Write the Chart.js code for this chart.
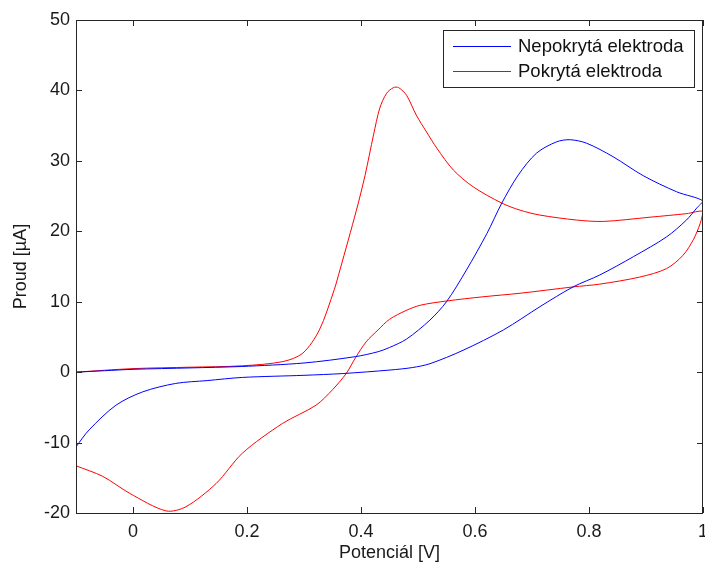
<!DOCTYPE html>
<html>
<head>
<meta charset="utf-8">
<script src="https://cdn.jsdelivr.net/npm/chart.js@4/dist/chart.umd.min.js"></script>
<style>
  body { margin: 0; background: #fff; }
  #cv { display: block; }
</style>
</head>
<body>
<canvas id="cv" width="705" height="565"></canvas>
<script>
// Cyclic voltammograms: uncoated vs coated electrode, scan -0.1 V -> 1 V -> -0.1 V
var seriesNames = ['Nepokrytá elektroda', 'Pokrytá elektroda'];
var seriesColors = ['#0000ff', '#ff0000'];

// uncoated electrode, forward then reverse scan
var bareX = [-0.1, -0.05, 0, 0.1, 0.19, 0.3, 0.39, 0.43, 0.45, 0.48, 0.521, 0.55, 0.585, 0.621, 0.647, 0.676, 0.708, 0.743, 0.767, 0.796, 0.842, 0.895, 0.954, 1.0,
             0.989, 0.971, 0.936, 0.878, 0.819, 0.772, 0.714, 0.65, 0.579, 0.521, 0.49, 0.451, 0.368, 0.3, 0.192, 0.13, 0.075, 0.017, -0.03, -0.077, -0.1];
var bareY = [0, 0.2, 0.4, 0.6, 0.8, 1.3, 2.2, 2.9, 3.5, 4.7, 7.4, 10.0, 14.5, 19.7, 24.0, 28.0, 31.1, 32.7, 33.0, 32.5, 30.6, 27.9, 25.6, 24.3,
             23.3, 21.6, 19.2, 16.4, 13.8, 12.1, 9.3, 6.0, 3.1, 1.2, 0.65, 0.3, -0.2, -0.45, -0.75, -1.2, -1.6, -2.8, -4.7, -8.2, -10.6];

// coated electrode, forward then reverse scan
var coatX = [-0.1, 0, 0.1, 0.192, 0.263, 0.298, 0.327, 0.353, 0.363, 0.392, 0.407, 0.422, 0.433, 0.445, 0.457, 0.466, 0.48, 0.497, 0.515, 0.533, 0.562, 0.597, 0.647, 0.679, 0.714, 0.778, 0.825, 0.907, 0.971, 1.0,
             0.995, 0.983, 0.965, 0.936, 0.889, 0.819, 0.772, 0.679, 0.614, 0.55, 0.504, 0.479, 0.45, 0.43, 0.409, 0.39, 0.374, 0.35, 0.321, 0.262, 0.192, 0.146, 0.093, 0.058, -0.006, -0.053, -0.1];
var coatY = [0, 0.5, 0.7, 0.9, 1.5, 2.7, 6.0, 11.7, 14.5, 23.0, 27.9, 33.7, 37.5, 39.6, 40.4, 40.4, 39.3, 36.5, 34.1, 31.8, 28.7, 26.3, 24.0, 23.0, 22.3, 21.6, 21.4, 22.0, 22.5, 22.8,
             21.1, 18.8, 16.6, 14.7, 13.5, 12.5, 12.1, 11.2, 10.7, 10.1, 9.5, 8.75, 7.5, 6.0, 4.3, 2.0, -0.2, -2.5, -4.7, -7.3, -11.5, -15.8, -19.1, -19.7, -17.2, -14.8, -13.3];

var xTicks = [0, 0.2, 0.4, 0.6, 0.8, 1];
var yTicks = [-20, -10, 0, 10, 20, 30, 40, 50];

function toPoints(xs, ys) {
    var pts = [];
    for (var i = 0; i < xs.length; i++) {
        pts.push({ x: xs[i], y: ys[i] });
    }
    return pts;
}

function fixedTicks(values) {
    return function (scale) {
        scale.ticks = values.map(function (v) { return { value: v }; });
    };
}

// box around the plot area with inward ticks on all four sides
var axesBox = {
    id: 'axesBox',
    afterDraw: function (chart) {
        var ctx = chart.ctx;
        var a = chart.chartArea;
        var xs = chart.scales.x, ys = chart.scales.y;
        var len = 6;
        ctx.save();
        ctx.strokeStyle = '#262626';
        ctx.lineWidth = 1;
        ctx.beginPath();
        xTicks.forEach(function (v) {
            var px = Math.round(xs.getPixelForValue(v)) + 0.5;
            ctx.moveTo(px, a.bottom); ctx.lineTo(px, a.bottom - len);
            ctx.moveTo(px, a.top); ctx.lineTo(px, a.top + len);
        });
        yTicks.forEach(function (v) {
            var py = Math.round(ys.getPixelForValue(v)) + 0.5;
            ctx.moveTo(a.left, py); ctx.lineTo(a.left + len, py);
            ctx.moveTo(a.right, py); ctx.lineTo(a.right - len, py);
        });
        ctx.stroke();
        ctx.strokeRect(Math.round(a.left) + 0.5, Math.round(a.top) + 0.5,
                       Math.round(a.right - a.left) - 1, Math.round(a.bottom - a.top));
        ctx.restore();
    }
};

// legend drawn inside the upper right corner of the axes
var insideLegend = {
    id: 'insideLegend',
    afterDraw: function (chart) {
        var ctx = chart.ctx;
        var bx = 443, by = 30, bw = 251, bh = 57;
        ctx.save();
        ctx.fillStyle = '#fff';
        ctx.fillRect(bx, by, bw, bh);
        ctx.strokeStyle = '#262626';
        ctx.lineWidth = 1;
        ctx.strokeRect(bx + 0.5, by + 0.5, bw, bh);
        ctx.font = '18.5px "Liberation Sans", Arial, sans-serif';
        ctx.textBaseline = 'middle';
        chart.data.datasets.forEach(function (ds, i) {
            var yy = 46.5 + i * 25;
            ctx.strokeStyle = ds.borderColor;
            ctx.beginPath();
            ctx.moveTo(453, yy); ctx.lineTo(511, yy);
            ctx.stroke();
            ctx.fillStyle = '#111';
            ctx.fillText(ds.label, 518, yy);
        });
        ctx.restore();
    }
};

Chart.defaults.font.family = '"Liberation Sans", Arial, sans-serif';
Chart.defaults.font.size = 18;
Chart.defaults.color = '#1a1a1a';

new Chart(document.getElementById('cv'), {
    type: 'scatter',
    data: {
        datasets: [
            {
                label: seriesNames[0],
                data: toPoints(bareX, bareY),
                borderColor: seriesColors[0],
                borderWidth: 1,
                showLine: true,
                tension: 0.3,
                pointRadius: 0
            },
            {
                label: seriesNames[1],
                data: toPoints(coatX, coatY),
                borderColor: seriesColors[1],
                borderWidth: 1,
                showLine: true,
                tension: 0.3,
                pointRadius: 0
            }
        ]
    },
    options: {
        responsive: false,
        animation: false,
        layout: { padding: { top: 20, right: 2, left: 0, bottom: 0 } },
        plugins: {
            legend: { display: false },
            tooltip: { enabled: false }
        },
        scales: {
            x: {
                type: 'linear',
                min: -0.1,
                max: 1,
                afterBuildTicks: fixedTicks(xTicks),
                afterFit: function (s) { s.height = 52; s.paddingLeft = 0; s.paddingRight = 0; },
                grid: { display: false, drawTicks: false },
                border: { display: false },
                ticks: { padding: 8, maxRotation: 0, callback: function (v) { return String(v); } },
                title: { display: true, text: 'Potenciál [V]', padding: { top: 0, bottom: 1 } }
            },
            y: {
                type: 'linear',
                min: -20,
                max: 50,
                afterBuildTicks: fixedTicks(yTicks),
                afterFit: function (s) { s.width = 76; s.paddingTop = 0; s.paddingBottom = 0; },
                grid: { display: false, drawTicks: false },
                border: { display: false },
                ticks: { padding: 6, callback: function (v) { return String(v); } },
                title: { display: true, text: 'Proud [µA]', padding: { top: 10, bottom: 0 } }
            }
        }
    },
    plugins: [axesBox, insideLegend]
});
</script>
</body>
</html>
